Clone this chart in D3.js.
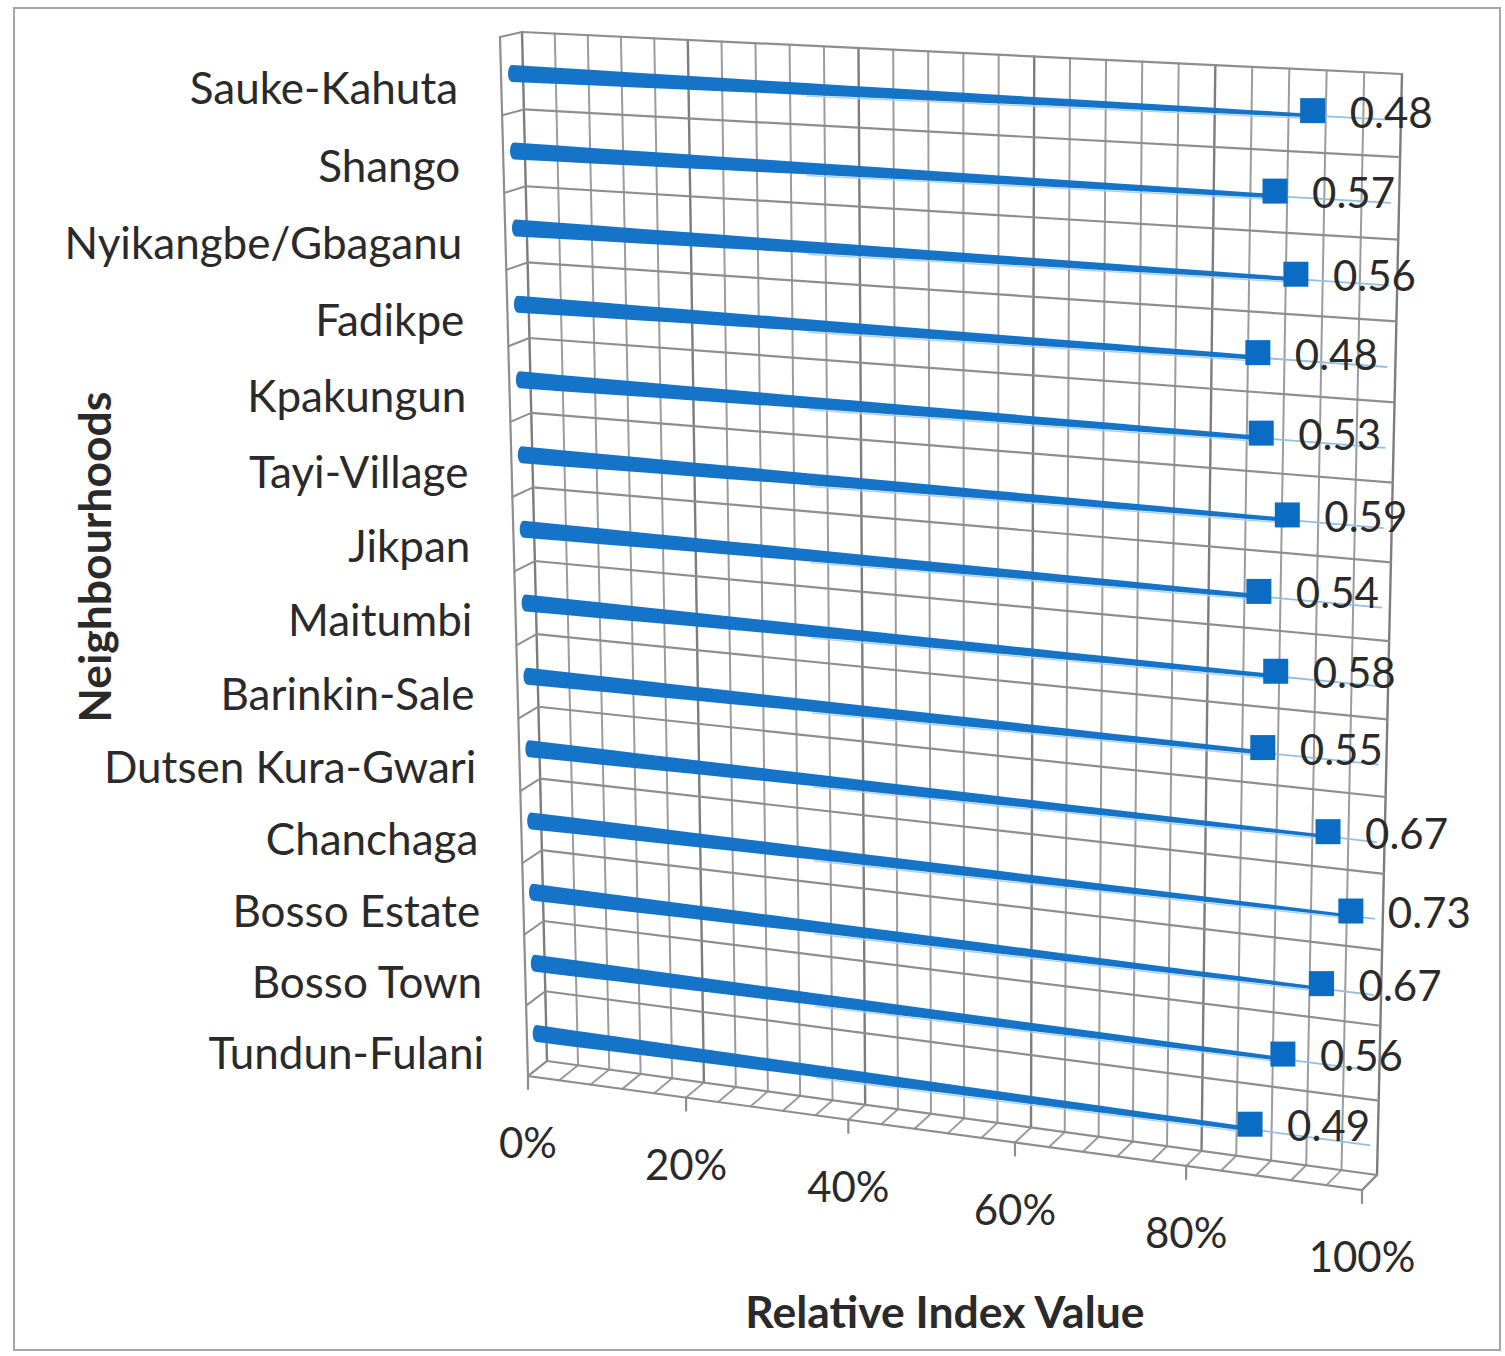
<!DOCTYPE html>
<html>
<head>
<meta charset="utf-8">
<script src="https://cdn.jsdelivr.net/npm/d3@7"></script>
<style>
  html, body { margin: 0; padding: 0; background: #fff; }
  svg { display: block; }
  text { font-family: Lato, "Open Sans", sans-serif; fill: #2a2a2a; }
</style>
</head>
<body>
<svg id="chart" width="1505" height="1356"></svg>
<script>
// ---------------- data ----------------
const categories = [
  "Sauke-Kahuta", "Shango", "Nyikangbe/Gbaganu", "Fadikpe", "Kpakungun",
  "Tayi-Village", "Jikpan", "Maitumbi", "Barinkin-Sale", "Dutsen Kura-Gwari",
  "Chanchaga", "Bosso Estate", "Bosso Town", "Tundun-Fulani"
];
const values = [0.48, 0.57, 0.56, 0.48, 0.53, 0.59, 0.54, 0.58, 0.55, 0.67, 0.73, 0.67, 0.56, 0.49];
// where each data label (legend key + value) sits along the value axis (share of 100%)
const labelAt = [0.915, 0.876, 0.90, 0.86, 0.865, 0.895, 0.865, 0.885, 0.872, 0.946, 0.973, 0.942, 0.90, 0.864];
const xTicks = [0, 0.2, 0.4, 0.6, 0.8, 1];
const xTitle = "Relative Index Value";
const yTitle = "Neighbourhoods";

// ---------------- 3D frame (perspective) ----------------
const backQuad  = [[522, 32], [1402, 74], [1377, 1175], [547, 1061]];   // TL, TR, BR, BL
const frontQuad = [[500, 37], [1385, 82], [1362, 1190], [528, 1076]];

function homography(q) {
  const [x0, y0] = q[0], [x1, y1] = q[1], [x2, y2] = q[2], [x3, y3] = q[3];
  const dx1 = x1 - x2, dx2 = x3 - x2, dx3 = x0 - x1 + x2 - x3;
  const dy1 = y1 - y2, dy2 = y3 - y2, dy3 = y0 - y1 + y2 - y3;
  const den = dx1 * dy2 - dx2 * dy1;
  const g = (dx3 * dy2 - dx2 * dy3) / den;
  const h = (dx1 * dy3 - dx3 * dy1) / den;
  const a = x1 - x0 + g * x1, b = x3 - x0 + h * x3, c = x0;
  const d = y1 - y0 + g * y1, e = y3 - y0 + h * y3, f = y0;
  return (u, v) => {
    const w = g * u + h * v + 1;
    return [(a * u + b * v + c) / w, (d * u + e * v + f) / w];
  };
}
const backH = homography(backQuad), frontH = homography(frontQuad);
// u: value share (0..1), v: category position (0 top..1 bottom), w: depth (0 front .. 1 back)
function proj(u, v, w) {
  const f = frontH(u, v), b = backH(u, v);
  return [f[0] + (b[0] - f[0]) * w, f[1] + (b[1] - f[1]) * w];
}

const x = d3.scaleLinear().domain([0, 1]).range([0, 1]);
const y = d3.scaleBand().domain(categories).range([0, 1]).padding(0);

const svg = d3.select("#chart");

// outer chart border
svg.append("rect").attr("x", 14).attr("y", 8).attr("width", 1486).attr("height", 1342)
  .attr("fill", "none").attr("stroke", "#a6a6a6").attr("stroke-width", 2);

const grid = svg.append("g").attr("fill", "none").attr("stroke-linecap", "round");
const line = d3.line();

// vertical grid on back wall + floor hatches every 4%
const minor = d3.range(0, 1.0001, 0.04);
minor.forEach(t => {
  const isMajor = Math.abs(t / 0.2 - Math.round(t / 0.2)) < 1e-6;
  grid.append("path")
    .attr("d", line([backH(x(t), 0), backH(x(t), 1)]))
    .attr("stroke", isMajor ? "#7d7d7d" : "#9c9c9c").attr("stroke-width", isMajor ? 2.4 : 2);
  grid.append("path")
    .attr("d", line([frontH(x(t), 1), backH(x(t), 1)]))
    .attr("stroke", "#9c9c9c").attr("stroke-width", 2);
});

// horizontal category separators on back wall + left wall
const bounds = categories.map(c => y(c)).concat([1]);
bounds.forEach(v => {
  grid.append("path").attr("d", line([backH(0, v), backH(1, v)]))
    .attr("stroke", "#8e8e8e").attr("stroke-width", 2.2);
  grid.append("path").attr("d", line([frontH(0, v), backH(0, v)]))
    .attr("stroke", "#8e8e8e").attr("stroke-width", 2);
});

// front frame edges
grid.append("path").attr("d", line([frontH(0, 0), frontH(0, 1), frontH(1, 1), backH(1, 1)]))
  .attr("stroke", "#8e8e8e").attr("stroke-width", 2.2);

// value axis ticks and labels
const fmt = d3.format(".0%");
xTicks.forEach(t => {
  const p = frontH(x(t), 1);
  grid.append("path").attr("d", line([p, [p[0], p[1] + 13]]))
    .attr("stroke", "#8e8e8e").attr("stroke-width", 2.2);
  svg.append("text").attr("x", p[0]).attr("y", p[1] + 66)
    .attr("text-anchor", "middle").attr("dominant-baseline", "central")
    .attr("font-size", 42).text(fmt(t));
});

// category labels
categories.forEach(c => {
  const vc = y(c) + y.bandwidth() / 2;
  const p = frontH(0, vc);
  svg.append("text").attr("x", p[0] - 43).attr("y", p[1] + 11)
    .attr("text-anchor", "end").attr("dominant-baseline", "central")
    .attr("font-size", 44).text(c);
});

// cones (3D 100% bar shape), tapering toward 100%
const cones = svg.append("g");
const baseHW = 8.5, tipHW = 1.2;
const hwAt = t => baseHW + (tipHW - baseHW) * t;
categories.forEach((c, i) => {
  const vc = y(c) + y.bandwidth() / 2;
  const end = x(labelAt[i]);
  const steps = d3.range(0, end, 0.05).concat([end]);
  const axis = steps.map(t => proj(x(t), vc, 0.5));
  const top = axis.map((p, k) => [p[0], p[1] - hwAt(steps[k])]);
  const bot = axis.map((p, k) => [p[0], p[1] + hwAt(steps[k])]).reverse();
  let d = "M" + top.map(p => p.join(",")).join("L") + "L" + bot.map(p => p.join(",")).join("L");
  d += `A4,${baseHW} 0 0 1 ${top[0][0]},${top[0][1]}Z`;
  // faint tip beyond the label
  const tip = [proj(end, vc, 0.5), proj(x(1), vc, 0.5)];
  cones.append("path").attr("d", line(tip)).attr("fill", "none")
    .attr("stroke", "#93bfe6").attr("stroke-width", 1.8);
  // light halo under the cone
  const halo = steps.filter(t => t > 0.35).map(t => { const p = proj(x(t), vc, 0.5); return [p[0], p[1] + hwAt(t) + 1.2]; });
  cones.append("path").attr("d", line(halo)).attr("fill", "none")
    .attr("stroke", "#a9d1f2").attr("stroke-width", 1.4);
  cones.append("path").attr("d", d).attr("fill", "#1674c8");
});

// data labels with legend key
categories.forEach((c, i) => {
  const vc = y(c) + y.bandwidth() / 2;
  const p = proj(x(labelAt[i]), vc, 0.5);
  const cy = p[1] - 5;
  svg.append("rect").attr("x", p[0] - 12.5).attr("y", cy - 12.5)
    .attr("width", 25).attr("height", 25).attr("fill", "#0b6cc4");
  svg.append("text").attr("x", p[0] + 37).attr("y", cy + 1)
    .attr("dominant-baseline", "central").attr("font-size", 42).text(d3.format(".2f")(values[i]));
});

// axis titles
svg.append("text").attr("x", 945).attr("y", 1310).attr("text-anchor", "middle")
  .attr("dominant-baseline", "central").attr("font-size", 44.5).attr("font-weight", "bold").text(xTitle);
svg.append("text").attr("transform", "translate(93,557) rotate(-90)").attr("text-anchor", "middle")
  .attr("dominant-baseline", "central").attr("font-size", 44.5).attr("font-weight", "bold").text(yTitle);
</script>
</body>
</html>
